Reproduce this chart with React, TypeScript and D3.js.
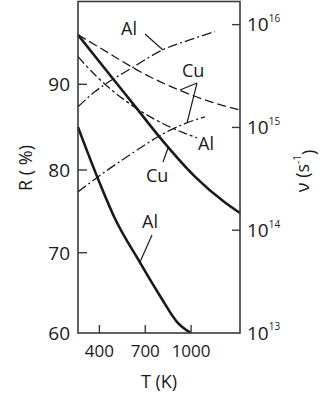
import React from "react";
import * as d3 from "d3";

// Temperature (K)
const cuRT = [260, 370, 490, 635, 805, 1025, 1220, 1320];
const cuR = [95.6, 93.2, 90.6, 87.4, 83.6, 79.2, 76.1, 74.8];
const alRT = [260, 385, 500, 665, 800, 910, 995];
const alR = [85.0, 79.2, 74.2, 68.8, 64.5, 61.3, 60.0];

// frequencies (s^-1), right log axis
const cuDashT = [260, 370, 730, 915, 1125, 1310];
const cuDashNu = [7.98e15, 6.38e15, 3.11e15, 2.33e15, 1.78e15, 1.49e15];
const alDashT = [260, 370, 655, 875, 1040];
const alDashNu = [4.88e15, 3.26e15, 1.49e15, 9.9e14, 7.9e14];
const alDotT = [260, 370, 615, 815, 995, 1155];
const alDotNu = [1.59e15, 2.22e15, 3.81e15, 5.7e15, 7.14e15, 8.55e15];
const cuDotT = [260, 390, 600, 830, 960, 1090];
const cuDotNu = [2.36e14, 3.3e14, 5.42e14, 8.87e14, 1.09e15, 1.27e15];

const xTicks = [400, 700, 1000];
const yTicks = [60, 70, 80, 90];
const nuTicks = [13, 14, 15, 16];

const FONT = "'Open Sans', Lato, sans-serif";

export default function App() {
  const left = 78, right = 240, top = 1.5, bottom = 333;
  const x = d3.scaleLinear().domain([260, 1320]).range([left, right]);
  const y = d3
    .scaleLinear()
    .domain([60, 70, 80, 90, 100])
    .range([332.7, 252.7, 170, 84.3, -4]);
  const yr = d3.scaleLog().domain([1e13, Math.pow(10, 16.23)]).range([bottom, 1]);

  const lineR = d3
    .line<[number, number]>()
    .x((d) => x(d[0]))
    .y((d) => y(d[1]))
    .curve(d3.curveMonotoneX);
  const lineNu = d3
    .line<[number, number]>()
    .x((d) => x(d[0]))
    .y((d) => yr(d[1]))
    .curve(d3.curveMonotoneX);

  const zip = (a: number[], b: number[]) => a.map((v, i) => [v, b[i]] as [number, number]);

  const ink = "#1a1a1a";
  const axisC = "#3a3a3a";

  return (
    <svg width={321} height={396} style={{ position: "absolute", left: 0, top: 0 }}>
      <rect width={321} height={396} fill="#fff" />
      {/* curves */}
      <path d={lineR(zip(cuRT, cuR)) || ""} fill="none" stroke={ink} strokeWidth={2.6} />
      <path d={lineR(zip(alRT, alR)) || ""} fill="none" stroke={ink} strokeWidth={2.6} />
      <path d={lineNu(zip(cuDashT, cuDashNu)) || ""} fill="none" stroke={ink} strokeWidth={1.3} strokeDasharray="9,4" />
      <path d={lineNu(zip(alDashT, alDashNu)) || ""} fill="none" stroke={ink} strokeWidth={1.3} strokeDasharray="9,3,3,3" />
      <path d={lineNu(zip(alDotT, alDotNu)) || ""} fill="none" stroke={ink} strokeWidth={1.3} strokeDasharray="10,3,2,3" />
      <path d={lineNu(zip(cuDotT, cuDotNu)) || ""} fill="none" stroke={ink} strokeWidth={1.3} strokeDasharray="10,3,2,3" />

      {/* leaders */}
      <g stroke={ink} strokeWidth={1.2} fill="none">
        <line x1={145} y1={34} x2={163} y2={50} />
        <line x1={197} y1={83} x2={180} y2={90} />
        <line x1={197} y1={83} x2={187} y2={123} />
        <line x1={163} y1={162} x2={168} y2={148} />
        <line x1={152} y1={235} x2={140} y2={262} />
      </g>
      <g fontFamily={FONT} fontSize={18} fill={ink}>
        <text x={121} y={35}>Al</text>
        <text x={182} y={77}>Cu</text>
        <text x={198} y={150}>Al</text>
        <text x={146} y={182}>Cu</text>
        <text x={142} y={228}>Al</text>
      </g>

      {/* frame */}
      <rect x={left} y={top} width={right - left} height={bottom - top} fill="none" stroke={axisC} strokeWidth={1.6} />

      {/* left ticks */}
      {yTicks.map((t) => (
        <g key={"y" + t}>
          {t !== 60 && <line x1={left} x2={left + 9} y1={y(t)} y2={y(t)} stroke={axisC} strokeWidth={1.4} />}
          <text x={70} y={y(t)} dy="0.36em" textAnchor="end" fontFamily={FONT} fontSize={19} fill={ink}>
            {t}
          </text>
        </g>
      ))}
      {/* bottom ticks */}
      {xTicks.map((t) => (
        <g key={"x" + t}>
          <line x1={x(t)} x2={x(t)} y1={bottom} y2={bottom - 8} stroke={axisC} strokeWidth={1.4} />
          <text x={x(t)} y={356.5} textAnchor="middle" fontFamily={FONT} fontSize={17} fill={ink}>
            {t}
          </text>
        </g>
      ))}
      {/* right ticks */}
      {nuTicks.map((e) => (
        <g key={"r" + e}>
          {e !== 13 && (
            <line x1={right - 8} x2={right} y1={yr(Math.pow(10, e))} y2={yr(Math.pow(10, e))} stroke={axisC} strokeWidth={1.4} />
          )}
          <text x={247} y={yr(Math.pow(10, e))} dy="0.36em" fontFamily={FONT} fontSize={19} fill={ink}>
            10
            <tspan fontSize={10} dy="-0.95em">{e}</tspan>
          </text>
        </g>
      ))}

      {/* axis titles */}
      <text
        transform="translate(32,168) rotate(-90)"
        textAnchor="middle"
        fontFamily={FONT}
        fontSize={18}
        fill={ink}
      >
        R ( %)
      </text>
      <text
        transform="translate(309,171) rotate(-90)"
        textAnchor="middle"
        fontFamily={FONT}
        fontSize={18}
        fill={ink}
      >
        ν (s<tspan fontSize={10} dy="-0.8em">-1</tspan><tspan dy="0.8em">)</tspan>
      </text>
      <text x={159} y={388} textAnchor="middle" fontFamily={FONT} fontSize={18} fill={ink}>
        T (K)
      </text>
    </svg>
  );
}
